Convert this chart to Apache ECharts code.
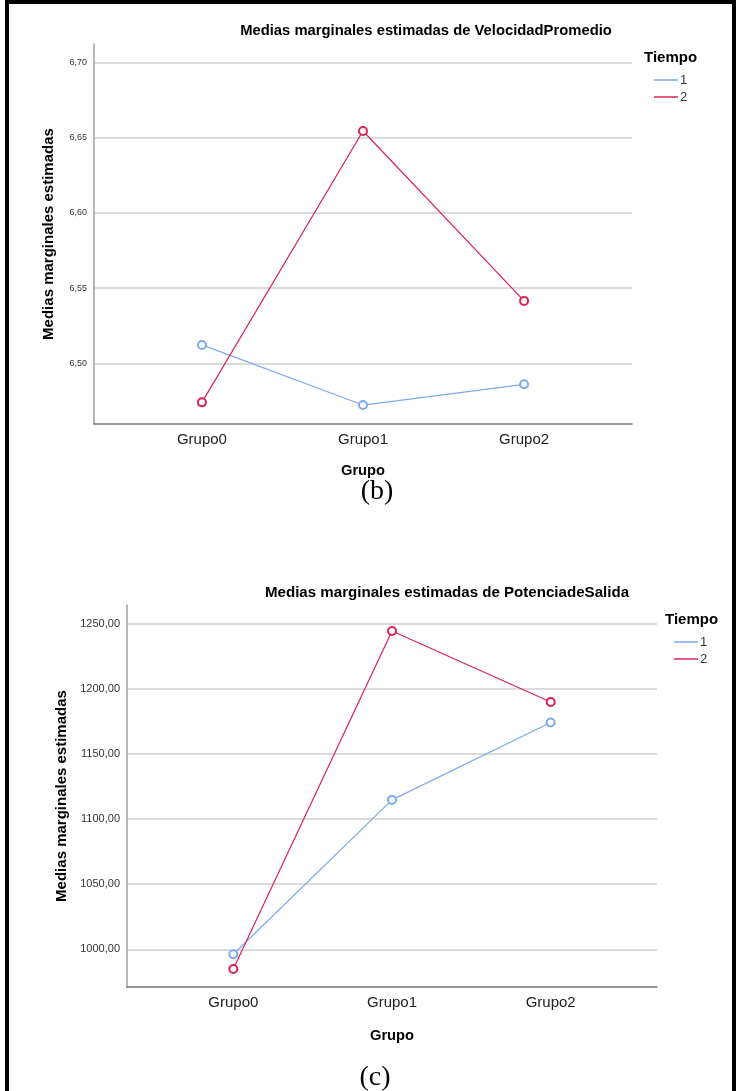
<!DOCTYPE html>
<html>
<head>
<meta charset="utf-8">
<script src="https://cdn.jsdelivr.net/npm/echarts@6/dist/echarts.min.js"></script>
<style>
html,body{margin:0;padding:0;background:#fff;}
#c{width:738px;height:1091px;}
</style>
</head>
<body>
<div id="c"></div>
<script>
// ---- data ----
const groups = ['Grupo0', 'Grupo1', 'Grupo2'];
const seriesNames = ['1', '2'];
const vel_t1 = [6.5122, 6.4722, 6.486];
const vel_t2 = [6.474, 6.6545, 6.5415];
const pot_t1 = [996.2, 1114.8, 1174.3];
const pot_t2 = [984.8, 1244.6, 1190.0];
const velTicks = [6.50, 6.55, 6.60, 6.65, 6.70];
const potTicks = [1000, 1050, 1100, 1150, 1200, 1250];
const velRange = [6.4596, 6.7124];
const potRange = [971.0, 1264.6];
const title1 = 'Medias marginales estimadas de VelocidadPromedio';
const title2 = 'Medias marginales estimadas de PotenciadeSalida';
const yName = 'Medias marginales estimadas';
const xName = 'Grupo';
const legendTitle = 'Tiempo';
const captions = ['(b)', '(c)'];

const FONT = '"Liberation Sans", Arial, sans-serif';
const BLUE = '#7BAAEE';
const RED = '#D92352';

function pts(arr) { return arr.map((v, i) => [i, v]); }
function commaFmt(v) { return v.toFixed(2).replace('.', ','); }

function xAxisCfg(gridIndex, nameGap) {
  return {
    gridIndex, type: 'value', min: -0.67, max: 2.67,
    name: xName, nameLocation: 'middle', nameGap,
    nameTextStyle: { fontFamily: FONT, fontWeight: 'bold', fontSize: 14.7, color: '#000' },
    axisLine: { lineStyle: { color: '#777', width: 1.5 } },
    axisTick: { show: false },
    splitLine: { show: false },
    axisLabel: {
      customValues: [0, 1, 2],
      formatter: v => groups[Math.round(v)],
      fontFamily: FONT, fontSize: 15, color: '#222', margin: 8
    }
  };
}
function yAxisCfg(gridIndex, range, ticks, fontSize, nameGap) {
  return {
    gridIndex, type: 'value', min: range[0], max: range[1],
    name: yName, nameLocation: 'middle', nameGap,
    nameTextStyle: { fontFamily: FONT, fontWeight: 'bold', fontSize: 15, color: '#000' },
    axisLine: { onZero: false, lineStyle: { color: '#a0a0a0', width: 1.5 } },
    axisTick: { show: false, customValues: ticks },
    axisLabel: { customValues: ticks, formatter: commaFmt, fontFamily: FONT, fontSize, color: '#333', margin: 7 },
    splitLine: { show: true, lineStyle: { color: '#cfcfcf', width: 1.5 } }
  };
}
function lineSeries(name, data, color, xi, yi) {
  return {
    type: 'line', name, data: pts(data), xAxisIndex: xi, yAxisIndex: yi,
    symbol: 'emptyCircle', symbolSize: 8,
    itemStyle: { color, borderColor: color, borderWidth: 1.3 },
    lineStyle: { color, width: 1.2 },
    emphasis: { disabled: true }, animation: false
  };
}
function legendCfg(left, top) {
  return {
    orient: 'vertical', left, top, icon: 'rect', itemWidth: 24, itemHeight: 1.5, itemGap: 3,
    data: seriesNames, selectedMode: false,
    itemStyle: { borderWidth: 0 },
    textStyle: { fontFamily: FONT, fontSize: 13, color: '#333', lineHeight: 14, padding: [0, 0, 0, -3] }
  };
}

const chart = echarts.init(document.getElementById('c'), null, { renderer: 'canvas' });
chart.setOption({
  backgroundColor: '#fff',
  animation: false,
  grid: [
    { left: 94, right: 106, top: 44, height: 380 },
    { left: 127, right: 81, top: 605, height: 382 }
  ],
  xAxis: [xAxisCfg(0, 39), xAxisCfg(1, 41)],
  yAxis: [yAxisCfg(0, velRange, velTicks, 9, 38), yAxisCfg(1, potRange, potTicks, 11, 57)],
  legend: [legendCfg(649, 68), legendCfg(669, 630)],
  series: [
    lineSeries(seriesNames[0], vel_t1, BLUE, 0, 0),
    lineSeries(seriesNames[1], vel_t2, RED, 0, 0),
    lineSeries(seriesNames[0], pot_t1, BLUE, 1, 1),
    lineSeries(seriesNames[1], pot_t2, RED, 1, 1)
  ],
  graphic: [
    { type: 'rect', shape: { x: 7, y: 2, width: 727, height: 1100 }, style: { fill: 'none', stroke: '#000', lineWidth: 4 }, z: 100, silent: true },
    { type: 'text', x: 426, y: 31, style: { text: title1, font: 'bold 14.8px ' + FONT, fill: '#000', textAlign: 'center', textVerticalAlign: 'middle' } },
    { type: 'text', x: 447, y: 593, style: { text: title2, font: 'bold 15.1px ' + FONT, fill: '#000', textAlign: 'center', textVerticalAlign: 'middle' } },
    { type: 'text', x: 644, y: 58, style: { text: legendTitle, font: 'bold 15px ' + FONT, fill: '#000', textAlign: 'left', textVerticalAlign: 'middle' } },
    { type: 'text', x: 665, y: 620, style: { text: legendTitle, font: 'bold 15px ' + FONT, fill: '#000', textAlign: 'left', textVerticalAlign: 'middle' } },
    { type: 'text', x: 377, y: 492, style: { text: captions[0], font: '28px "Liberation Serif", "Times New Roman", serif', fill: '#000', textAlign: 'center', textVerticalAlign: 'middle' } },
    { type: 'text', x: 375, y: 1078, style: { text: captions[1], font: '28px "Liberation Serif", "Times New Roman", serif', fill: '#000', textAlign: 'center', textVerticalAlign: 'middle' } }
  ]
});
</script>
</body>
</html>
